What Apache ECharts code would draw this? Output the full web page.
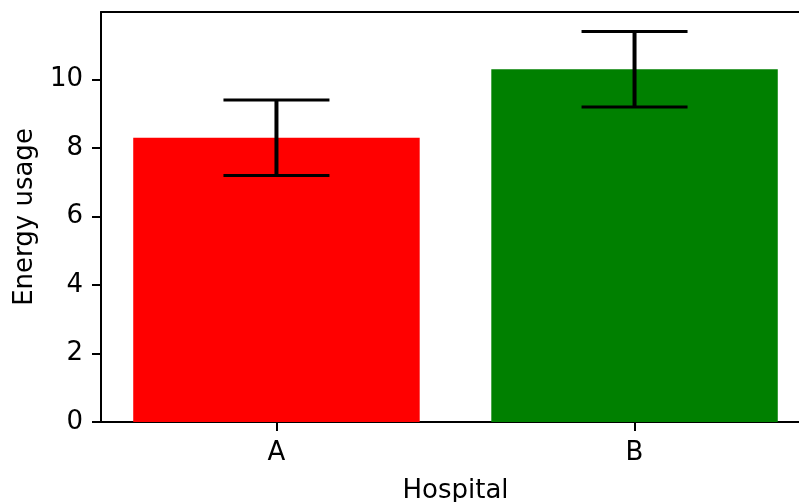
<!DOCTYPE html>
<html>
<head>
<meta charset="utf-8">
<script src="https://cdn.jsdelivr.net/npm/echarts@6/dist/echarts.min.js"></script>
<style>
  html, body { margin: 0; padding: 0; background: #ffffff; overflow: hidden; }
  #chart { width: 799px; height: 502px; }
</style>
</head>
<body>
<div id="chart"></div>
<script>
// Energy usage per hospital with error bars
const categories = ['A', 'B'];
const energyUsage = [8.3, 10.3];
const energyError = [1.1, 1.1];
const barColors = ['#ff0000', '#008000'];
const yTicks = [0, 2, 4, 6, 8, 10];

const FONT = 'DejaVu Sans';
const FS = 26;

const chart = echarts.init(document.getElementById('chart'), null, { renderer: 'canvas' });

const barData = categories.map((c, i) => [i, energyUsage[i]]);
const errData = categories.map((c, i) => [i, energyUsage[i] - energyError[i], energyUsage[i] + energyError[i]]);

const option = {
  animation: false,
  backgroundColor: '#ffffff',
  // plot area runs past the right edge of the canvas, so the right spine is cut off
  grid: { left: 101, top: 12, width: 709, height: 410, containLabel: false, outerBoundsMode: 'none' },
  xAxis: [
    {
      type: 'value',
      min: -0.49,
      max: 1.49,
      splitLine: { show: false },
      axisLine: { show: true, onZero: false, lineStyle: { color: '#000', width: 2 } },
      axisTick: { show: true, customValues: categories.map((c, i) => i), length: 9, lineStyle: { color: '#000', width: 2 } },
      axisLabel: {
        show: true,
        customValues: categories.map((c, i) => i),
        formatter: v => categories[Math.round(v)],
        color: '#000', fontFamily: FONT, fontSize: FS, margin: 18
      },
      name: 'Hospital',
      nameLocation: 'middle',
      nameGap: 56,
      nameTextStyle: { color: '#000', fontFamily: FONT, fontSize: FS }
    },
    {
      type: 'value',
      position: 'top',
      min: -0.49,
      max: 1.49,
      splitLine: { show: false },
      axisLine: { show: true, onZero: false, lineStyle: { color: '#000', width: 2 } },
      axisTick: { show: false },
      axisLabel: { show: false }
    }
  ],
  yAxis: {
    type: 'value',
    min: 0,
    max: 11.97,
    splitLine: { show: false },
    axisLine: { show: true, onZero: false, lineStyle: { color: '#000', width: 2 } },
    axisTick: { show: true, customValues: yTicks, length: 9, lineStyle: { color: '#000', width: 2 } },
    axisLabel: {
      show: true,
      customValues: yTicks,
      color: '#000', fontFamily: FONT, fontSize: FS, margin: 18
    },
    name: 'Energy usage',
    nameLocation: 'middle',
    nameRotate: 90,
    nameGap: 63,
    nameTextStyle: { color: '#000', fontFamily: FONT, fontSize: FS }
  },
  series: [
    {
      type: 'custom',
      name: 'bars',
      xAxisIndex: 0,
      data: barData,
      encode: { x: 0, y: 1 },
      renderItem: function (params, api) {
        const i = api.value(0);
        const v = api.value(1);
        const p0 = api.coord([i - 0.4, v]);
        const p1 = api.coord([i + 0.4, 0]);
        return {
          type: 'rect',
          shape: { x: p0[0], y: p0[1], width: p1[0] - p0[0], height: p1[1] - p0[1] },
          style: { fill: barColors[params.dataIndex] }
        };
      },
      z: 2
    },
    {
      type: 'custom',
      name: 'errors',
      xAxisIndex: 0,
      data: errData,
      encode: { x: 0, y: [1, 2] },
      renderItem: function (params, api) {
        const i = api.value(0);
        const lo = api.coord([i, api.value(1)]);
        const hi = api.coord([i, api.value(2)]);
        const cap = 53;
        return {
          type: 'group',
          children: [
            { type: 'line', shape: { x1: lo[0], y1: lo[1], x2: hi[0], y2: hi[1] }, style: { stroke: '#000', lineWidth: 4 } },
            { type: 'line', shape: { x1: lo[0] - cap, y1: lo[1], x2: lo[0] + cap, y2: lo[1] }, style: { stroke: '#000', lineWidth: 3 } },
            { type: 'line', shape: { x1: hi[0] - cap, y1: hi[1], x2: hi[0] + cap, y2: hi[1] }, style: { stroke: '#000', lineWidth: 3 } }
          ]
        };
      },
      z: 3
    }
  ]
};

chart.setOption(option);
</script>
</body>
</html>
